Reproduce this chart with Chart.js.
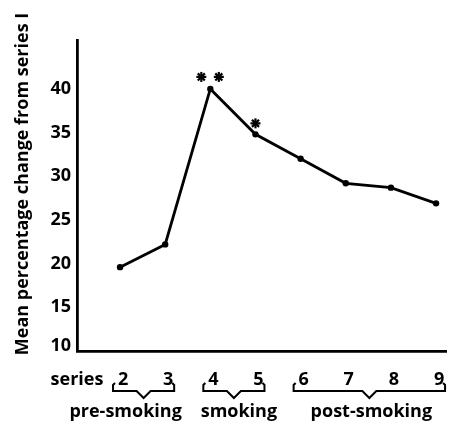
<!DOCTYPE html>
<html>
<head>
<meta charset="utf-8">
<script src="https://cdn.jsdelivr.net/npm/chart.js@4.4.1/dist/chart.umd.min.js"></script>
<style>
  html, body { margin: 0; padding: 0; background: #fff; }
  #wrap { width: 450px; height: 426px; }
</style>
</head>
<body>
<div id="wrap"><canvas id="smokeChart" width="450" height="426"></canvas></div>
<script>
// values
const seriesNums = [2, 3, 4, 5, 6, 7, 8, 9];
const meanChange = [19.6, 22.2, 40.0, 34.8, 32.0, 29.2, 28.7, 26.9];
const starCounts = [0, 0, 2, 1, 0, 0, 0, 0];   // significance asterisks
const yTicks = [10, 15, 20, 25, 30, 35, 40];
const groupLabels = ['pre-smoking', 'smoking', 'post-smoking'];
const groupFrom = [2, 4, 6];
const groupTo = [3, 5, 9];

const FONT = '"Open Sans", Lato, sans-serif';

// draws tick labels, group brackets and asterisks using the chart scales
const annotate = {
  id: 'annotate',
  afterDraw(chart) {
    const ctx = chart.ctx;
    const xs = chart.scales.x;
    const ys = chart.scales.y;
    ctx.save();
    ctx.fillStyle = '#000';
    ctx.strokeStyle = '#000';

    // y tick labels
    ctx.font = 'bold 18px ' + FONT;
    ctx.textAlign = 'right';
    ctx.textBaseline = 'middle';
    yTicks.forEach(v => {
      ctx.fillText(String(v), 71, ys.getPixelForValue(v) - (v === 10 ? 5 : 0));
    });

    // x labels
    ctx.textAlign = 'center';
    ctx.textBaseline = 'alphabetic';
    ctx.fillText('series', 77, 385);
    seriesNums.forEach(n => {
      ctx.fillText(String(n), xs.getPixelForValue(n) + 3, 385);
    });

    // brackets + group names
    const labelShift = [-18, 5, 2];
    ctx.lineWidth = 2;
    groupLabels.forEach((g, i) => {
      const x0 = xs.getPixelForValue(groupFrom[i]) - 7;
      const x1 = xs.getPixelForValue(groupTo[i]) + 9;
      const mid = (x0 + x1) / 2;
      const yb = 391;
      ctx.beginPath();
      ctx.moveTo(x0 + 2, 383);
      ctx.lineTo(x0, 385);
      ctx.lineTo(x0, yb);
      ctx.lineTo(mid - 7, yb);
      ctx.lineTo(mid, yb + 7);
      ctx.lineTo(mid + 7, yb);
      ctx.lineTo(x1, yb);
      ctx.lineTo(x1, 385);
      ctx.lineTo(x1 - 2, 383);
      ctx.stroke();
      ctx.font = 'bold 18px ' + FONT;
      ctx.fillText(g, mid + labelShift[i], 417);
    });

    // asterisks above the significant points
    ctx.lineWidth = 2.2;
    seriesNums.forEach((n, i) => {
      const k = starCounts[i];
      if (!k) return;
      const px = xs.getPixelForValue(n);
      const py = ys.getPixelForValue(meanChange[i]);
      const offs = k === 2 ? [-9, 8.5] : [0];
      offs.forEach(dx => {
        const cx = px + dx, cy = py - (k === 2 ? 12 : 11);
        for (let a = 0; a < 4; a++) {
          const ang = a * Math.PI / 4;
          ctx.beginPath();
          ctx.moveTo(cx - 5 * Math.cos(ang), cy - 5 * Math.sin(ang));
          ctx.lineTo(cx + 5 * Math.cos(ang), cy + 5 * Math.sin(ang));
          ctx.stroke();
        }
      });
    });

    // rotated y title
    ctx.font = 'bold 18px ' + FONT;
    ctx.translate(23, 184);
    ctx.rotate(-Math.PI / 2);
    ctx.textAlign = 'center';
    ctx.textBaseline = 'middle';
    ctx.fillText('Mean percentage change from series I', 0, 0);
    ctx.restore();
  }
};

new Chart(document.getElementById('smokeChart'), {
  type: 'line',
  data: {
    datasets: [{
      data: seriesNums.map((n, i) => ({ x: n, y: meanChange[i] })),
      borderColor: '#000',
      backgroundColor: '#000',
      borderWidth: 2.8,
      pointRadius: 3.2,
      pointBackgroundColor: '#000',
      pointBorderWidth: 0,
      tension: 0
    }]
  },
  options: {
    responsive: false,
    animation: false,
    layout: { padding: { left: 77, top: 40, right: 0, bottom: 75 } },
    plugins: { legend: { display: false }, tooltip: { enabled: false } },
    scales: {
      x: {
        type: 'linear',
        min: 1.047,
        max: 9.22,
        ticks: { display: false },
        grid: { display: false, drawTicks: false },
        border: { display: true, color: '#000', width: 2.8 }
      },
      y: {
        min: 10,
        max: 45.6,
        ticks: { display: false },
        grid: { display: false, drawTicks: false },
        border: { display: true, color: '#000', width: 2.8 }
      }
    }
  },
  plugins: [annotate]
});
</script>
</body>
</html>
